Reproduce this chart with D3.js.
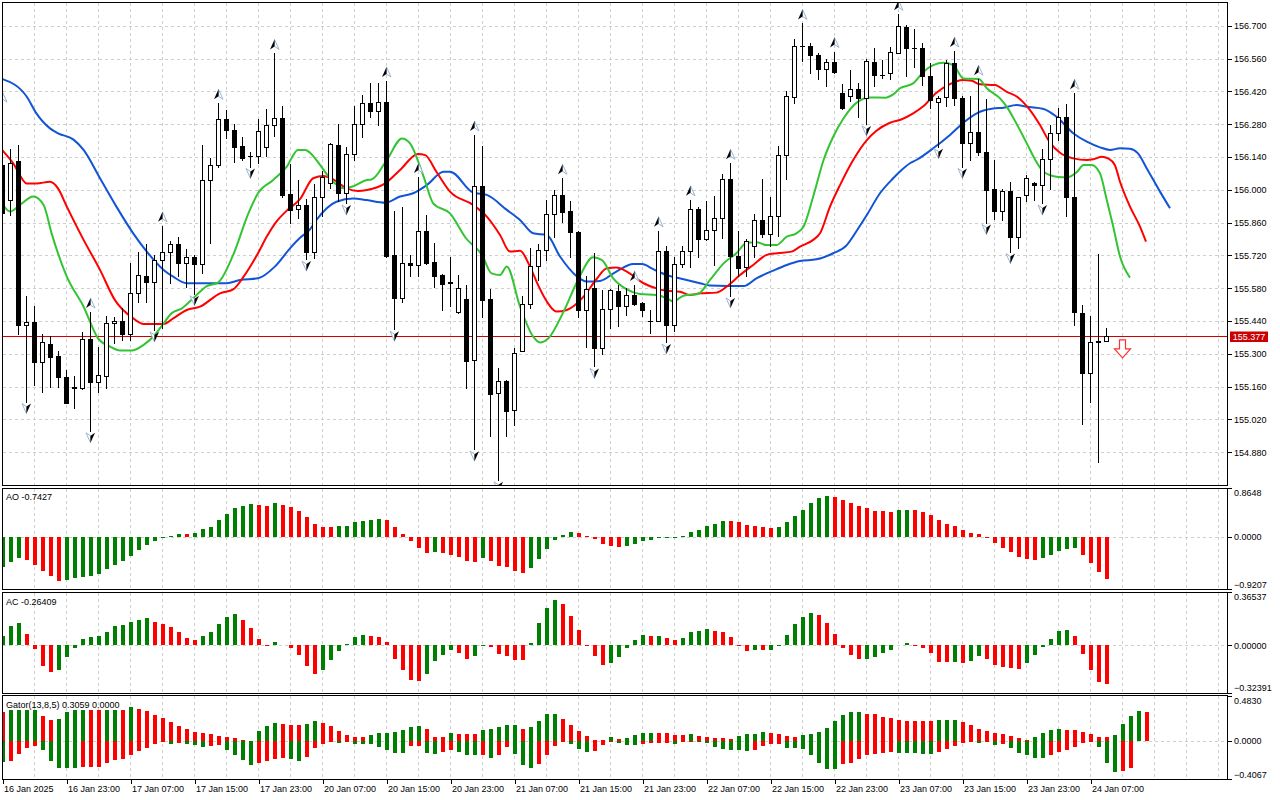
<!DOCTYPE html>
<html><head><meta charset="utf-8">
<script src="https://cdn.jsdelivr.net/npm/d3@7"></script>
<style>
body{margin:0;background:#fff;overflow:hidden}
text{font-family:"Liberation Sans",Arial,sans-serif;font-size:9px;fill:#000}
</style>
</head><body><svg id="c" width="1280" height="800"></svg>
<script>
// ---------------- DATA (H1, 16-24 Jan 2025) ----------------
const opens = [156.106,155.957,156.123,155.421,155.435,155.263,155.341,155.291,155.200,155.156,
155.153,155.362,155.178,155.207,155.432,155.441,155.384,155.559,155.633,155.608,
155.701,155.734,155.768,155.689,155.715,155.682,156.041,156.105,156.302,156.255,
156.187,156.143,156.143,156.183,156.275,156.305,155.981,155.918,155.934,155.736,
155.968,156.028,156.191,155.988,156.152,156.280,156.369,156.338,156.373,155.722,
155.540,155.687,155.677,155.822,155.692,155.637,155.601,155.480,155.534,155.274,
156.017,155.534,155.132,155.185,155.061,155.314,155.513,155.675,155.744,155.896,
155.978,155.910,155.819,155.485,155.580,155.324,155.490,155.569,155.502,155.552,
155.516,155.442,155.442,155.739,155.421,155.682,155.739,155.918,155.789,155.829,
155.879,156.045,155.718,155.672,155.758,155.871,155.810,155.886,156.147,156.395,
156.615,156.614,156.573,156.514,156.544,156.415,156.402,156.429,156.391,156.544,
156.491,156.497,156.585,156.696,156.607,156.607,156.486,156.376,156.395,156.543,
156.393,156.201,156.245,156.159,156.002,155.911,155.995,155.800,155.978,156.028,
156.021,156.130,156.241,156.309,155.968,155.473,155.220,155.352,155.355];
const highs = [156.127,156.173,156.191,155.547,155.505,155.384,155.374,155.313,155.232,155.206,
155.395,155.478,155.331,155.462,155.459,155.495,155.687,155.734,155.768,155.722,
155.846,155.782,155.798,155.746,155.720,156.191,156.135,156.369,156.341,156.281,
156.227,156.163,156.302,156.345,156.582,156.358,156.110,156.042,155.960,156.024,
156.078,156.200,156.281,156.184,156.358,156.405,156.454,156.454,156.464,155.910,
155.926,155.722,156.054,155.893,155.772,155.641,155.712,155.637,155.594,156.234,
156.187,155.576,155.239,155.189,155.324,155.547,155.751,155.768,155.957,155.999,
156.049,155.950,155.822,155.633,155.729,155.573,155.576,155.594,155.580,155.594,
155.523,155.488,155.825,155.761,155.712,155.758,155.957,155.928,155.953,155.974,
156.068,156.113,155.822,155.789,155.896,156.046,155.971,156.187,156.423,156.642,
156.710,156.628,156.582,156.557,156.590,156.450,156.511,156.457,156.557,156.604,
156.554,156.611,156.749,156.703,156.685,156.628,156.543,156.398,156.554,156.592,
156.398,156.398,156.472,156.386,156.125,156.002,156.035,155.971,156.063,156.031,
156.174,156.277,156.348,156.366,156.412,155.509,155.462,155.726,155.409];
const lows = [155.893,155.893,155.384,155.096,155.168,155.139,155.160,155.160,155.090,155.068,
155.150,154.971,155.135,155.156,155.345,155.360,155.357,155.523,155.523,155.402,
155.409,155.601,155.630,155.584,155.556,155.644,155.772,156.096,156.220,156.120,
156.125,156.099,156.113,156.142,156.231,155.971,155.857,155.879,155.704,155.708,
155.889,156.007,155.950,155.943,156.127,156.227,156.309,156.277,155.715,155.405,
155.523,155.630,155.630,155.682,155.587,155.488,155.505,155.476,155.156,154.893,
155.459,154.947,154.762,154.947,154.997,155.314,155.495,155.616,155.701,155.800,
155.864,155.715,155.456,155.331,155.246,155.300,155.409,155.419,155.466,155.509,
155.463,155.388,155.441,155.350,155.399,155.672,155.672,155.711,155.786,155.677,
155.796,155.547,155.630,155.630,155.712,155.800,155.758,155.803,156.045,156.372,
156.551,156.497,156.472,156.443,156.500,156.345,156.379,156.309,156.281,156.443,
156.476,156.472,156.582,156.486,156.526,156.447,156.348,156.184,156.358,156.362,
156.099,156.127,156.149,155.860,155.874,155.871,155.736,155.751,155.950,155.957,
155.943,156.002,156.213,155.889,155.424,155.001,155.096,154.838,155.355];
const closes = [155.900,156.113,155.421,155.435,155.263,155.350,155.288,155.199,155.092,155.158,
155.362,155.178,155.209,155.431,155.441,155.384,155.559,155.635,155.608,155.701,
155.734,155.768,155.689,155.715,155.682,156.041,156.105,156.301,156.255,156.184,
156.137,156.142,156.250,156.275,156.305,155.978,155.914,155.935,155.736,155.968,
156.053,156.194,155.988,156.152,156.280,156.369,156.338,156.373,155.718,155.540,
155.687,155.677,155.825,155.687,155.630,155.598,155.608,155.580,155.271,156.014,
155.530,155.129,155.182,155.054,155.303,155.513,155.675,155.741,155.896,155.978,
155.904,155.819,155.485,155.576,155.324,155.490,155.573,155.502,155.552,155.513,
155.485,155.441,155.739,155.421,155.682,155.739,155.917,155.789,155.829,155.879,
156.045,155.718,155.668,155.782,155.871,155.810,155.886,156.147,156.398,156.615,
156.614,156.573,156.514,156.544,156.504,156.348,156.429,156.391,156.550,156.490,
156.490,156.587,156.700,156.604,156.605,156.486,156.383,156.393,156.543,156.393,
156.201,156.245,156.159,155.997,155.911,155.995,155.800,155.968,156.049,156.021,
156.130,156.241,156.309,155.968,155.478,155.220,155.352,155.354,155.377];

// Alligator (bar index, price) samples
const jaw = [[0,156.473],[3.1,156.397],[4.3,156.326],[6,156.262],[7,156.241],[8.9,156.215],[10.2,156.170],[12.25,156.049],[14.3,155.928],[16.4,155.814],[18.1,155.736],[20.2,155.658],[21.4,155.629],[23.1,155.601],[28.1,155.601],[29.75,155.615],[32,155.622],[34.1,155.672],[36,155.750],[37.25,155.795],[38.5,155.831],[39.3,155.871],[41.8,155.949],[43.9,155.963],[45.6,155.956],[47.9,155.945],[49.75,155.971],[51.4,155.985],[53.1,156.020],[55.2,156.077],[56,156.077],[58.9,155.988],[60.6,155.978],[63.1,155.914],[64.75,155.871],[66.4,155.814],[68.1,155.807],[69.75,155.715],[71.8,155.632],[73.1,155.608],[74.75,155.611],[76.8,155.651],[78.9,155.683],[80,155.683],[81.4,155.661],[83.1,155.636],[85.2,155.618],[87.25,155.601],[88.5,155.591],[90.6,155.589],[92.7,155.589],[94.3,155.622],[96.4,155.655],[98.1,155.679],[99.75,155.696],[101.8,155.703],[103.9,155.729],[105.6,155.764],[106.9,155.828],[108.1,155.892],[109.75,155.985],[111.4,156.049],[112.25,156.078],[113.5,156.113],[114.3,156.127],[116.4,156.177],[118.5,156.234],[120.6,156.298],[122.25,156.333],[123.9,156.347],[125.2,156.350],[126.8,156.362],[128.1,156.354],[130.2,156.345],[131.8,156.312],[133.9,156.241],[135.6,156.205],[137.25,156.181],[138.5,156.170],[139.75,156.177],[141,156.175],[142,156.155],[143.1,156.091],[144.75,155.992],[146,155.921]];
const teeth = [[0,156.170],[1.4,156.113],[3.1,156.027],[4.3,156.027],[6,156.034],[7,156.006],[8.1,155.928],[10.2,155.786],[12.25,155.658],[14.1,155.530],[16.4,155.451],[17.7,155.427],[20.2,155.427],[21.4,155.451],[23.1,155.487],[24.75,155.501],[27.25,155.558],[28.9,155.575],[30.2,155.629],[32,155.729],[33.1,155.800],[34.3,155.864],[35.6,155.911],[37.25,155.960],[38.9,156.049],[40.2,156.059],[41.4,156.044],[43.1,156.006],[44.5,155.995],[45.6,155.999],[47.9,156.027],[49.75,156.084],[52,156.153],[52.9,156.148],[54.3,156.077],[56,155.992],[58.9,155.935],[60.6,155.885],[62.25,155.807],[63.5,155.736],[64.75,155.740],[66,155.672],[67,155.594],[68.1,155.523],[69.3,155.480],[70.6,155.487],[72.7,155.544],[74.3,155.618],[75.6,155.665],[76.8,155.668],[78.1,155.651],[80.2,155.601],[81.8,155.579],[83.1,155.569],[84.75,155.565],[86,155.551],[87.25,155.558],[89.3,155.561],[90.6,155.587],[92.25,155.636],[93.9,155.679],[95.6,155.722],[96.9,155.729],[98.7,155.736],[99.75,155.757],[101.4,155.786],[102.25,155.814],[103.5,155.928],[104.75,156.020],[106.4,156.127],[108.1,156.212],[109.3,156.252],[111,156.286],[112.4,156.300],[113.9,156.326],[115.2,156.357],[116.8,156.414],[118.5,156.451],[120.1,156.468],[121.2,156.465],[122.25,156.450],[124.1,156.447],[125.6,156.418],[127,156.394],[128.5,156.340],[129.75,156.276],[131,156.201],[132.25,156.158],[133.9,156.134],[135.6,156.127],[136.4,156.130],[137.5,156.141],[138.25,156.134],[139.1,156.106],[139.75,156.034],[141,155.928],[142.25,155.843],[143,155.779]];
const lips = [[0,155.942],[1,155.907],[2.25,155.935],[3.9,155.971],[5.2,155.935],[6.2,155.814],[8.1,155.629],[10.2,155.501],[12,155.366],[13.5,155.331],[14.75,155.314],[16.2,155.314],[17.7,155.338],[19.1,155.380],[20.2,155.430],[21.2,155.473],[22.5,155.494],[23.9,155.537],[25.6,155.589],[27,155.604],[28.9,155.722],[30.8,155.899],[32,155.985],[33.9,156.042],[35.6,156.099],[37,156.170],[37.9,156.170],[38.5,156.158],[39.75,156.106],[41,156.049],[42.7,156.006],[44,156.016],[45.6,156.042],[46.2,156.044],[48.1,156.127],[50,156.219],[51,156.198],[52.7,156.056],[53.9,155.942],[56,155.899],[58,155.793],[60,155.722],[61.2,155.643],[62.25,155.636],[63.1,155.672],[64.75,155.501],[66.4,155.373],[67.25,155.348],[68.3,155.366],[70.2,155.480],[72,155.615],[73.9,155.712],[75,155.700],[76.4,155.622],[78.1,155.575],[79.75,155.555],[81.8,155.551],[83.1,155.537],[83.9,155.523],[85.2,155.548],[87,155.555],[88.5,155.615],[90.2,155.686],[91.8,155.729],[93.1,155.774],[94.3,155.776],[95.6,155.764],[96.8,155.764],[98.1,155.800],[99.3,155.814],[100.2,155.843],[101.4,155.971],[102.7,156.127],[103.9,156.226],[105.2,156.305],[107,156.376],[108.5,156.394],[110.4,156.393],[111.4,156.407],[112.25,156.433],[113.9,156.454],[115.2,156.504],[116.4,156.532],[117.7,156.542],[118.9,156.532],[120.2,156.475],[122.1,156.473],[123.1,156.433],[124.75,156.390],[125.6,156.354],[126.8,156.283],[128.1,156.198],[129.4,156.113],[130.2,156.077],[131.8,156.056],[133.1,156.053],[134.4,156.077],[135.2,156.106],[136.2,156.106],[137.25,156.070],[138.1,155.956],[138.9,155.843],[139.75,155.715],[141,155.625]];

// Fractals [bar, level]
const fractalUp = [[0,156.357],[11,155.478],[20,155.846],[27,156.369],[34,156.582],[48,156.464],[52,156.054],[59,156.234],[70,156.049],[79,155.594],[82,155.825],[86,155.957],[91,156.113],[100,156.710],[104,156.590],[112,156.749],[119,156.592],[122,156.472],[134,156.412]];
const fractalDown = [[3,155.096],[11,154.971],[19,155.402],[24,155.556],[31,156.099],[38,155.704],[43,155.943],[49,155.405],[59,154.893],[62,154.762],[74,155.246],[83,155.350],[91,155.547],[108,156.281],[117,156.184],[120,156.099],[123,155.860],[126,155.736],[130,155.943]];
const sellSignal = {bar:140, price:155.359};
const currentPrice = 155.377;

// Awesome Oscillator
const ao = [-0.536,-0.436,-0.377,-0.400,-0.489,-0.595,-0.695,-0.772,-0.754,-0.730,
-0.713,-0.683,-0.648,-0.571,-0.489,-0.418,-0.330,-0.236,-0.135,-0.077,
-0.024,0.024,0.053,0.047,0.077,0.141,0.183,0.294,0.412,0.518,
0.554,0.589,0.571,0.554,0.595,0.571,0.536,0.465,0.359,0.236,
0.183,0.177,0.188,0.200,0.259,0.283,0.306,0.324,0.306,0.183,
0.053,-0.077,-0.200,-0.277,-0.271,-0.289,-0.312,-0.359,-0.430,-0.436,
-0.377,-0.430,-0.506,-0.536,-0.595,-0.642,-0.554,-0.395,-0.218,-0.053,
0.035,0.094,0.071,0.018,-0.035,-0.130,-0.165,-0.183,-0.165,-0.130,
-0.077,-0.053,-0.024,-0.018,-0.006,0.018,0.094,0.130,0.200,0.236,
0.289,0.277,0.259,0.218,0.200,0.183,0.165,0.183,0.271,0.377,
0.483,0.607,0.689,0.724,0.707,0.654,0.607,0.554,0.518,0.465,
0.459,0.448,0.477,0.483,0.471,0.448,0.395,0.306,0.230,0.200,
0.130,0.077,0.053,-0.006,-0.112,-0.188,-0.259,-0.359,-0.395,-0.400,
-0.377,-0.324,-0.253,-0.212,-0.200,-0.324,-0.465,-0.624,-0.7427];
// Accelerator Oscillator
const ac = [0.064,0.131,0.152,0.076,-0.023,-0.138,-0.184,-0.170,-0.080,-0.018,
0.041,0.055,0.062,0.090,0.131,0.138,0.159,0.177,0.186,0.159,
0.147,0.124,0.092,0.048,0.034,0.062,0.090,0.145,0.193,0.214,
0.172,0.117,0.041,-0.005,0.021,0.005,-0.018,-0.069,-0.138,-0.193,
-0.170,-0.101,-0.039,0.007,0.055,0.069,0.067,0.055,0.021,-0.094,
-0.170,-0.239,-0.246,-0.198,-0.108,-0.067,-0.032,-0.053,-0.094,-0.074,
0.002,-0.009,-0.060,-0.074,-0.097,-0.101,0.014,0.152,0.255,0.310,
0.283,0.200,0.103,-0.002,-0.076,-0.131,-0.122,-0.080,-0.018,0.034,
0.069,0.062,0.067,0.048,0.034,0.048,0.090,0.099,0.110,0.101,
0.092,0.055,-0.002,-0.037,-0.030,-0.034,-0.032,0.001,0.069,0.145,
0.193,0.221,0.207,0.152,0.076,-0.018,-0.067,-0.094,-0.092,-0.080,
-0.053,-0.032,0.005,0.014,-0.007,-0.018,-0.053,-0.115,-0.117,-0.115,
-0.122,-0.108,-0.074,-0.094,-0.136,-0.145,-0.156,-0.163,-0.122,-0.067,
-0.011,0.041,0.097,0.103,0.067,-0.060,-0.170,-0.253,-0.26409];
// Gator oscillator (upper / lower histograms)
const gatorUp = [0.307,0.329,0.329,0.329,0.329,0.265,0.223,0.237,0.307,0.329,
0.330,0.328,0.327,0.329,0.331,0.330,0.360,0.343,0.314,0.276,
0.247,0.201,0.159,0.131,0.099,0.088,0.071,0.053,0.042,0.028,
0.011,0.004,0.106,0.159,0.187,0.177,0.170,0.170,0.177,0.212,
0.187,0.159,0.106,0.064,0.046,0.046,0.067,0.085,0.088,0.095,
0.117,0.148,0.159,0.124,0.042,0.042,0.085,0.074,0.074,0.074,
0.117,0.127,0.152,0.173,0.173,0.127,0.152,0.212,0.286,0.286,
0.230,0.170,0.106,0.053,0.011,0.007,0.042,0.018,0.028,0.064,
0.085,0.085,0.081,0.081,0.064,0.064,0.074,0.053,0.046,0.032,
0.028,0.018,0.053,0.074,0.074,0.095,0.085,0.074,0.053,0.046,
0.067,0.078,0.095,0.141,0.212,0.276,0.307,0.307,0.286,0.286,
0.254,0.244,0.219,0.212,0.212,0.212,0.212,0.223,0.223,0.223,
0.201,0.170,0.127,0.106,0.085,0.074,0.053,0.032,0.011,0.042,
0.085,0.117,0.127,0.120,0.117,0.095,0.074,0.042,0.042,0.064,
0.180,0.265,0.318,0.3059];
const gatorDown = [-0.223,-0.212,-0.141,-0.071,-0.053,-0.095,-0.212,-0.283,-0.283,-0.283,
-0.276,-0.276,-0.276,-0.233,-0.201,-0.194,-0.145,-0.106,-0.071,-0.028,
-0.004,-0.028,-0.018,-0.028,-0.046,-0.067,-0.057,-0.046,-0.092,-0.145,
-0.201,-0.251,-0.230,-0.212,-0.187,-0.177,-0.187,-0.212,-0.166,-0.078,
-0.028,-0.011,-0.018,-0.011,-0.028,-0.028,-0.035,-0.060,-0.092,-0.124,
-0.124,-0.057,-0.057,-0.124,-0.134,-0.113,-0.092,-0.113,-0.145,-0.152,
-0.145,-0.177,-0.152,-0.064,-0.134,-0.258,-0.283,-0.247,-0.152,-0.057,
-0.002,-0.035,-0.081,-0.113,-0.106,-0.046,-0.007,-0.025,-0.046,-0.046,
-0.035,-0.025,-0.021,-0.018,-0.035,-0.004,-0.004,-0.007,-0.018,-0.060,
-0.081,-0.095,-0.095,-0.102,-0.095,-0.053,-0.028,-0.028,-0.071,-0.071,
-0.085,-0.145,-0.230,-0.293,-0.293,-0.240,-0.230,-0.187,-0.152,-0.134,
-0.124,-0.113,-0.124,-0.124,-0.124,-0.134,-0.134,-0.113,-0.088,-0.053,
-0.025,-0.011,-0.018,-0.001,-0.046,-0.035,-0.071,-0.124,-0.152,-0.177,
-0.177,-0.145,-0.113,-0.092,-0.060,-0.018,0.000,-0.060,-0.230,-0.325,
-0.318,-0.286];

const priceTicks = [156.700,156.560,156.420,156.280,156.140,156.000,155.860,155.720,155.580,155.440,155.300,155.160,155.020,154.880];
const aoTicks = [0.8648,0.0000,-0.9207];
const acTicks = [0.36537,0.00000,-0.32391];
const gatorTicks = [0.4830,0.0000,-0.4067];
const timeLabels = ["16 Jan 2025","16 Jan 23:00","17 Jan 07:00","17 Jan 15:00","17 Jan 23:00","20 Jan 07:00","20 Jan 15:00","20 Jan 23:00","21 Jan 07:00","21 Jan 15:00","21 Jan 23:00","22 Jan 07:00","22 Jan 15:00","22 Jan 23:00","23 Jan 07:00","23 Jan 15:00","23 Jan 23:00","24 Jan 07:00"];
const timeLabelBars = [0,8,16,24,32,40,48,56,64,72,80,88,96,104,112,120,128,136];
const gridBars = d3.range(4,153,4);

// ---------------- LAYOUT ----------------
const svg = d3.select('#c');
const R = 1227.5;
const xb = d3.scaleLinear().domain([0,1]).range([2,10]);
const P = {
  main:{top:2.5,bottom:485.5, y:d3.scaleLinear().domain([154.740,156.800]).range([485,2.3])},
  ao:{top:488.5,bottom:589.5, y:d3.scaleLinear().domain([-0.9207,0.8648]).range([589,488])},
  ac:{top:592.5,bottom:693.5, y:d3.scaleLinear().domain([-0.32391,0.36537]).range([692.7,592])},
  gator:{top:695.5,bottom:779.5, y:d3.scaleLinear().domain([-0.4067,0.4830]).range([779.3,695.5])}
};
const GRID = '#cfcfcf';
const defs = svg.append('defs');
Object.entries(P).forEach(([k,p])=>{
  defs.append('clipPath').attr('id','clip-'+k).append('rect')
    .attr('x',3).attr('y',p.top+0.5).attr('width',R-3).attr('height',p.bottom-p.top-1);
});

function panelGroup(name){
  const p=P[name];
  const g=svg.append('g').attr('clip-path','url(#clip-'+name+')');
  g.selectAll('line.vg').data(gridBars).join('line')
    .attr('x1',d=>Math.round(xb(d))+0.5).attr('x2',d=>Math.round(xb(d))+0.5)
    .attr('y1',p.top).attr('y2',p.bottom)
    .attr('stroke',GRID).attr('stroke-dasharray','3,3').attr('shape-rendering','crispEdges');
  return g;
}

// ---------------- MAIN PANEL ----------------
const ym = P.main.y;
const gm = panelGroup('main');
gm.selectAll('line.hg').data(priceTicks).join('line')
  .attr('x1',3).attr('x2',R).attr('y1',d=>Math.round(ym(d))+0.5).attr('y2',d=>Math.round(ym(d))+0.5)
  .attr('stroke',GRID).attr('stroke-dasharray','3,3').attr('shape-rendering','crispEdges');

gm.append('line').attr('x1',3).attr('x2',R)
  .attr('y1',Math.round(ym(currentPrice))+0.5).attr('y2',Math.round(ym(currentPrice))+0.5)
  .attr('stroke','#d40000').attr('shape-rendering','crispEdges');

const lineGen = d3.line().x(d=>xb(d[0])).y(d=>ym(d[1])).curve(d3.curveMonotoneX);
[[jaw,'#1155d6'],[teeth,'#ff0000'],[lips,'#33c433']].forEach(([data,col])=>{
  gm.append('path').datum(data).attr('d',lineGen).attr('fill','none')
    .attr('stroke',col).attr('stroke-width',2).attr('stroke-linejoin','round');
});

const bars = d3.range(opens.length).map(i=>({i,o:opens[i],h:highs[i],l:lows[i],c:closes[i]}));
const cg = gm.append('g').attr('shape-rendering','crispEdges');
cg.selectAll('line.wick').data(bars).join('line')
  .attr('x1',d=>xb(d.i)+0.5).attr('x2',d=>xb(d.i)+0.5)
  .attr('y1',d=>Math.round(ym(d.h))).attr('y2',d=>Math.round(ym(d.l))+1)
  .attr('stroke','#000');
cg.selectAll('rect.body').data(bars).join('rect')
  .attr('x',d=>d.c>=d.o? xb(d.i)-1.5 : xb(d.i)-2)
  .attr('y',d=>{const t=Math.round(ym(Math.max(d.o,d.c)));return d.c>=d.o? t+0.5 : t;})
  .attr('width',d=>d.c>=d.o?4:5)
  .attr('height',d=>{const h=Math.round(ym(Math.min(d.o,d.c)))-Math.round(ym(Math.max(d.o,d.c)));return Math.max(d.c>=d.o?h:h+1,1);})
  .attr('fill',d=>d.c>=d.o?'#fff':'#000')
  .attr('stroke',d=>d.c>=d.o?'#000':'none');

// Fractals (3D-looking arrowheads)
const leftFacet='M0,-5 L-4.5,5 L0,2 Z', rightFacet='M0,-5 L4.5,5 L0,2 Z';
const fu = gm.selectAll('g.fu').data(fractalUp).join('g')
  .attr('transform',d=>`translate(${xb(d[0])+0.5},${ym(d[1])-9})`);
fu.append('path').attr('d',rightFacet).attr('fill','#fff').attr('stroke','#9db4d4').attr('stroke-width',1);
fu.append('path').attr('d',leftFacet).attr('fill','#000');
const fd = gm.selectAll('g.fd').data(fractalDown).join('g')
  .attr('transform',d=>`translate(${xb(d[0])+0.5},${ym(d[1])+7}) scale(1,-1)`);
fd.append('path').attr('d',leftFacet).attr('fill','#fff').attr('stroke','#9db4d4').attr('stroke-width',1);
fd.append('path').attr('d',rightFacet).attr('fill','#000');

// Sell signal arrow
const sx = xb(sellSignal.bar)+0.5, sy = ym(sellSignal.price);
gm.append('path')
  .attr('d',`M${sx-3},${sy} L${sx+3},${sy} L${sx+3},${sy+9} L${sx+8},${sy+9} L${sx},${sy+18} L${sx-8},${sy+9} L${sx-3},${sy+9} Z`)
  .attr('fill','#fff').attr('stroke','#ff3030').attr('stroke-width',1.2);

// ---------------- SUB PANELS ----------------
function colorize(vals, absMode, first){
  let prev=null, col=first;
  return vals.map(v=>{
    const a = absMode? Math.abs(v): v;
    if(prev!==null){ if(a>prev) col='#008000'; else if(a<prev) col='#ff0000'; }
    prev=a; return col;
  });
}
function histogram(g, y, vals, cols){
  g.append('g').attr('shape-rendering','crispEdges').selectAll('rect').data(vals.map((v,i)=>({v,i,c:cols[i]}))).join('rect')
    .attr('x',d=>xb(d.i)-1.5).attr('width',4)
    .attr('y',d=>Math.min(y(d.v),y(0)))
    .attr('height',d=>Math.max(Math.abs(y(d.v)-y(0)),0.6))
    .attr('fill',d=>d.c);
}
function zeroLine(g,p){
  g.append('line').attr('x1',3).attr('x2',R).attr('y1',Math.round(p.y(0))+0.5).attr('y2',Math.round(p.y(0))+0.5)
   .attr('stroke',GRID).attr('stroke-dasharray','3,3').attr('shape-rendering','crispEdges');
}
const gao = panelGroup('ao'); zeroLine(gao,P.ao);
histogram(gao,P.ao.y,ao,colorize(ao,false,'#008000'));
const gac = panelGroup('ac'); zeroLine(gac,P.ac);
histogram(gac,P.ac.y,ac,colorize(ac,false,'#008000'));
const gga = panelGroup('gator'); zeroLine(gga,P.gator);
histogram(gga,P.gator.y,gatorUp,colorize(gatorUp,true,'#ff0000'));
histogram(gga,P.gator.y,gatorDown,colorize(gatorDown,true,'#008000'));

svg.append('text').attr('x',6).attr('y',499.5).text('AO -0.7427');
svg.append('text').attr('x',6).attr('y',605).text('AC -0.26409');
svg.append('text').attr('x',6).attr('y',707.5).text('Gator(13,8,5) 0.3059 0.0000');

Object.values(P).forEach(p=>{
  svg.append('rect').attr('x',2.5).attr('y',p.top).attr('width',R-2.5).attr('height',p.bottom-p.top)
    .attr('fill','none').attr('stroke','#000').attr('shape-rendering','crispEdges');
});

// ---------------- AXES ----------------
function rightAxis(p, ticks, fmt){
  const ax = svg.append('g').attr('transform',`translate(${R},0)`)
    .call(d3.axisRight(p.y).tickValues(ticks).tickSize(4).tickPadding(2.5).tickFormat(fmt));
  ax.select('.domain').remove();
  ax.selectAll('line').attr('stroke','#000').attr('shape-rendering','crispEdges');
  ax.selectAll('text').attr('fill','#000').style('font-family','"Liberation Sans",Arial,sans-serif').style('font-size','9px');
  return ax;
}
rightAxis(P.main, priceTicks, d3.format('.3f'));
function subAxis(p, ticks, fmt){
  const ax = rightAxis(p, ticks, fmt);
  const mx=d3.max(ticks), mn=d3.min(ticks);
  ax.selectAll('.tick text').attr('dy',d=> d===mx? '0.85em' : d===mn? '-0.2em' : '0.32em');
}
subAxis(P.ao, aoTicks, d3.format('.4f'));
subAxis(P.ac, acTicks, d3.format('.5f'));
subAxis(P.gator, gatorTicks, d3.format('.4f'));

const cy = ym(currentPrice);
svg.append('rect').attr('x',1230).attr('y',Math.round(cy)-4.5).attr('width',38).attr('height',10.5).attr('fill','#cc0000');
svg.append('text').attr('x',1249).attr('y',Math.round(cy)+4).attr('text-anchor','middle')
  .style('fill','#fff').text(d3.format('.3f')(currentPrice));

const tax = svg.append('g').attr('transform',`translate(0,${P.gator.bottom})`)
  .call(d3.axisBottom(d3.scaleLinear().domain([0,1]).range([2.5,10.5])).tickValues(timeLabelBars).tickSize(4).tickPadding(2)
    .tickFormat((d,i)=>timeLabels[i]));
tax.select('.domain').remove();
tax.selectAll('line').attr('stroke','#000').attr('shape-rendering','crispEdges');
tax.selectAll('text').attr('text-anchor','start').attr('dx','1').attr('fill','#000')
  .style('font-family','"Liberation Sans",Arial,sans-serif').style('font-size','9px');
</script>
</body></html>
